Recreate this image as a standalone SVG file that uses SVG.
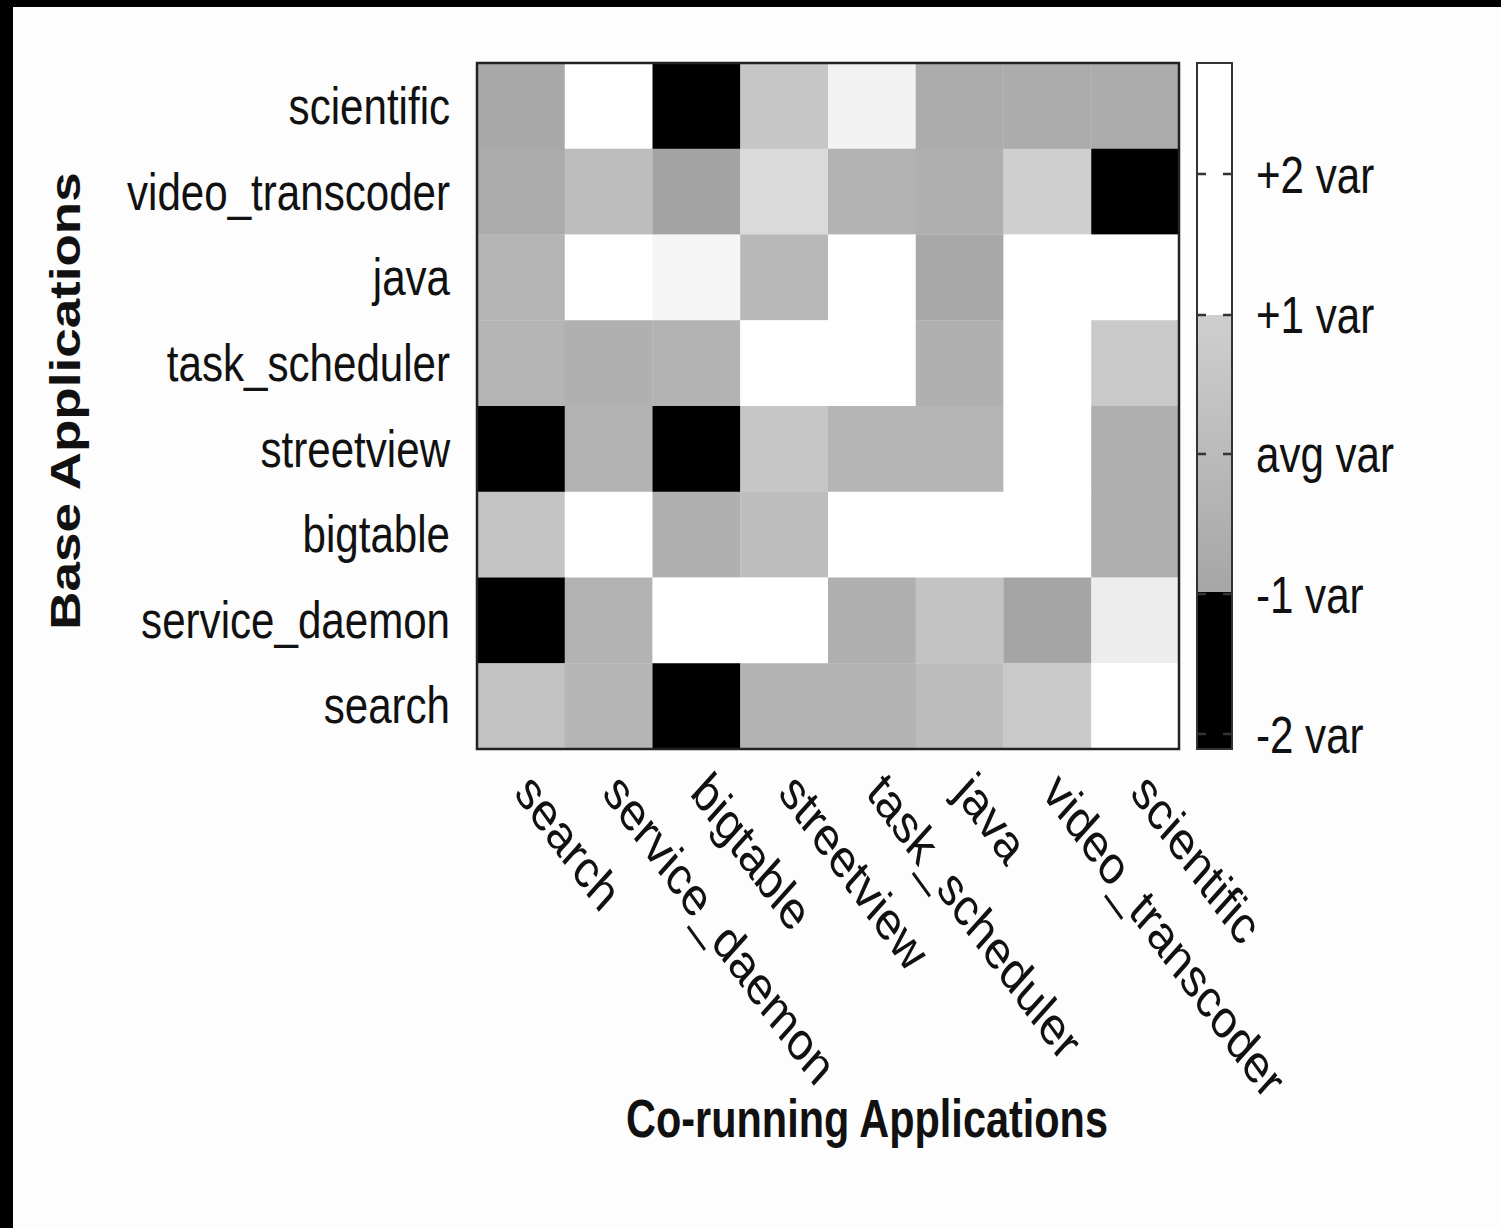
<svg xmlns="http://www.w3.org/2000/svg" width="1501" height="1228" viewBox="0 0 1501 1228">
<style>
.t{font-family:"Liberation Sans",Arial,sans-serif;font-size:52px;fill:#111}
.x{font-family:"Liberation Sans",Arial,sans-serif;font-size:54px;fill:#111}
.b{font-family:"Liberation Sans",Arial,sans-serif;font-size:53px;font-weight:bold;fill:#111}
.r{text-anchor:end}
.tk{stroke:#333;stroke-width:2.5}
</style>
<defs>
<linearGradient id="cb" x1="0" y1="315" x2="0" y2="592" gradientUnits="userSpaceOnUse">
<stop offset="0" stop-color="#cfcfcf"/>
<stop offset="1" stop-color="#a6a6a6"/>
</linearGradient>
</defs>
<rect x="0" y="0" width="1501" height="1228" fill="#fdfdfd"/>
<rect x="0" y="0" width="1501" height="7" fill="#000"/>
<rect x="0" y="0" width="13" height="1228" fill="#000"/>

<g id="heatmap">
<!-- row scientific -->
<rect x="477" y="63" width="88" height="86" fill="#a9a9a9"/>
<rect x="564.75" y="63" width="88" height="86" fill="#ffffff"/>
<rect x="652.5" y="63" width="88" height="86" fill="#000000"/>
<rect x="740.25" y="63" width="88" height="86" fill="#c6c6c6"/>
<rect x="828" y="63" width="88" height="86" fill="#f2f2f2"/>
<rect x="915.75" y="63" width="88" height="86" fill="#acacac"/>
<rect x="1003.5" y="63" width="88" height="86" fill="#acacac"/>
<rect x="1091.25" y="63" width="87.75" height="86" fill="#acacac"/>
<!-- row video_transcoder -->
<rect x="477" y="148.75" width="88" height="86" fill="#ababab"/>
<rect x="564.75" y="148.75" width="88" height="86" fill="#bdbdbd"/>
<rect x="652.5" y="148.75" width="88" height="86" fill="#a3a3a3"/>
<rect x="740.25" y="148.75" width="88" height="86" fill="#dadada"/>
<rect x="828" y="148.75" width="88" height="86" fill="#b3b3b3"/>
<rect x="915.75" y="148.75" width="88" height="86" fill="#afafaf"/>
<rect x="1003.5" y="148.75" width="88" height="86" fill="#cfcfcf"/>
<rect x="1091.25" y="148.75" width="87.75" height="86" fill="#000000"/>
<!-- row java -->
<rect x="477" y="234.5" width="88" height="86" fill="#b5b5b5"/>
<rect x="564.75" y="234.5" width="88" height="86" fill="#ffffff"/>
<rect x="652.5" y="234.5" width="88" height="86" fill="#f5f5f5"/>
<rect x="740.25" y="234.5" width="88" height="86" fill="#b8b8b8"/>
<rect x="828" y="234.5" width="88" height="86" fill="#ffffff"/>
<rect x="915.75" y="234.5" width="88" height="86" fill="#a8a8a8"/>
<rect x="1003.5" y="234.5" width="88" height="86" fill="#ffffff"/>
<rect x="1091.25" y="234.5" width="87.75" height="86" fill="#ffffff"/>
<!-- row task_scheduler -->
<rect x="477" y="320.25" width="88" height="86" fill="#b5b5b5"/>
<rect x="564.75" y="320.25" width="88" height="86" fill="#b0b0b0"/>
<rect x="652.5" y="320.25" width="88" height="86" fill="#b3b3b3"/>
<rect x="740.25" y="320.25" width="88" height="86" fill="#ffffff"/>
<rect x="828" y="320.25" width="88" height="86" fill="#ffffff"/>
<rect x="915.75" y="320.25" width="88" height="86" fill="#b0b0b0"/>
<rect x="1003.5" y="320.25" width="88" height="86" fill="#ffffff"/>
<rect x="1091.25" y="320.25" width="87.75" height="86" fill="#c9c9c9"/>
<!-- row streetview -->
<rect x="477" y="406" width="88" height="86" fill="#000000"/>
<rect x="564.75" y="406" width="88" height="86" fill="#b3b3b3"/>
<rect x="652.5" y="406" width="88" height="86" fill="#000000"/>
<rect x="740.25" y="406" width="88" height="86" fill="#c6c6c6"/>
<rect x="828" y="406" width="88" height="86" fill="#b5b5b5"/>
<rect x="915.75" y="406" width="88" height="86" fill="#b5b5b5"/>
<rect x="1003.5" y="406" width="88" height="86" fill="#ffffff"/>
<rect x="1091.25" y="406" width="87.75" height="86" fill="#afafaf"/>
<!-- row bigtable -->
<rect x="477" y="491.75" width="88" height="86" fill="#c4c4c4"/>
<rect x="564.75" y="491.75" width="88" height="86" fill="#ffffff"/>
<rect x="652.5" y="491.75" width="88" height="86" fill="#b0b0b0"/>
<rect x="740.25" y="491.75" width="88" height="86" fill="#bebebe"/>
<rect x="828" y="491.75" width="88" height="86" fill="#ffffff"/>
<rect x="915.75" y="491.75" width="88" height="86" fill="#ffffff"/>
<rect x="1003.5" y="491.75" width="88" height="86" fill="#ffffff"/>
<rect x="1091.25" y="491.75" width="87.75" height="86" fill="#afafaf"/>
<!-- row service_daemon -->
<rect x="477" y="577.5" width="88" height="86" fill="#000000"/>
<rect x="564.75" y="577.5" width="88" height="86" fill="#b3b3b3"/>
<rect x="652.5" y="577.5" width="88" height="86" fill="#ffffff"/>
<rect x="740.25" y="577.5" width="88" height="86" fill="#ffffff"/>
<rect x="828" y="577.5" width="88" height="86" fill="#b0b0b0"/>
<rect x="915.75" y="577.5" width="88" height="86" fill="#c3c3c3"/>
<rect x="1003.5" y="577.5" width="88" height="86" fill="#a5a5a5"/>
<rect x="1091.25" y="577.5" width="87.75" height="86" fill="#ededed"/>
<!-- row search -->
<rect x="477" y="663.25" width="88" height="85.75" fill="#c2c2c2"/>
<rect x="564.75" y="663.25" width="88" height="85.75" fill="#b5b5b5"/>
<rect x="652.5" y="663.25" width="88" height="85.75" fill="#000000"/>
<rect x="740.25" y="663.25" width="88" height="85.75" fill="#b3b3b3"/>
<rect x="828" y="663.25" width="88" height="85.75" fill="#b3b3b3"/>
<rect x="915.75" y="663.25" width="88" height="85.75" fill="#bcbcbc"/>
<rect x="1003.5" y="663.25" width="88" height="85.75" fill="#c9c9c9"/>
<rect x="1091.25" y="663.25" width="87.75" height="85.75" fill="#ffffff"/>
<rect x="477" y="63" width="702" height="686" fill="none" stroke="#222" stroke-width="2.5"/>
</g>

<g id="colorbar">
<rect x="1197" y="63" width="35" height="252" fill="#ffffff"/>
<rect x="1197" y="315" width="35" height="277" fill="url(#cb)"/>
<rect x="1197" y="592" width="35" height="157" fill="#000000"/>
<rect x="1197" y="63" width="35" height="686" fill="none" stroke="#333" stroke-width="2"/>
<path class="tk" d="M1197 174h9M1223 174h9M1197 315h9M1223 315h9M1197 454h9M1223 454h9M1197 594h9M1223 594h9M1197 734h9M1223 734h9"/>
</g>

<g id="labels" transform="scale(0.81,1)">
<g id="ylabels">
<text class="t r" x="555.6" y="124">scientific</text>
<text class="t r" x="555.6" y="210">video_transcoder</text>
<text class="t r" x="555.6" y="295">java</text>
<text class="t r" x="555.6" y="381">task_scheduler</text>
<text class="t r" x="555.6" y="467">streetview</text>
<text class="t r" x="555.6" y="552">bigtable</text>
<text class="t r" x="555.6" y="638">service_daemon</text>
<text class="t r" x="555.6" y="723">search</text>
</g>
<g id="cblabels">
<text class="t" x="1550.6" y="193">+2 var</text>
<text class="t" x="1550.6" y="333">+1 var</text>
<text class="t" x="1550.6" y="472">avg var</text>
<text class="t" x="1550.6" y="613">-1 var</text>
<text class="t" x="1550.6" y="753">-2 var</text>
</g>
<g id="xlabels">
<text class="x" x="633.3" y="794" transform="rotate(48 633.3 794)">search</text>
<text class="x" x="741.98" y="794" transform="rotate(48 741.98 794)">service_daemon</text>
<text class="x" x="850.6" y="794" transform="rotate(48 850.6 794)">bigtable</text>
<text class="x" x="959.3" y="794" transform="rotate(48 959.3 794)">streetview</text>
<text class="x" x="1067.9" y="794" transform="rotate(48 1067.9 794)">task_scheduler</text>
<text class="x" x="1176.5" y="794" transform="rotate(48 1176.5 794)">java</text>
<text class="x" x="1285.2" y="794" transform="rotate(48 1285.2 794)">video_transcoder</text>
<text class="x" x="1393.8" y="794" transform="rotate(48 1393.8 794)">scientific</text>
</g>
<text id="xtitle" class="b" x="1070.4" y="1137" text-anchor="middle" textLength="595" lengthAdjust="spacingAndGlyphs">Co-running Applications</text>
<text id="ytitle" class="b" x="98.8" y="401" text-anchor="middle" transform="rotate(-90 98.8 401)">Base Applications</text>
</g>
</svg>
